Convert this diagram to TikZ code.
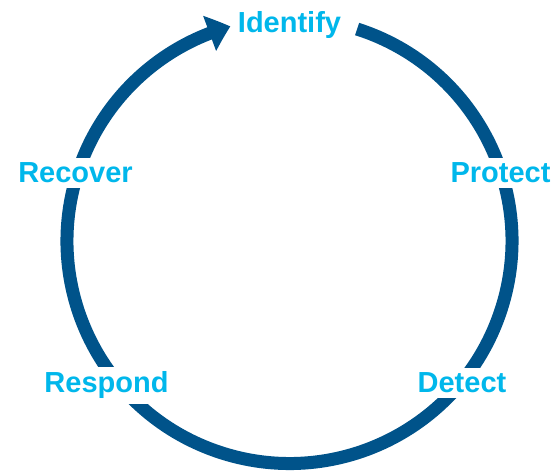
\documentclass[tikz,border=0pt]{standalone}
\usepackage{fontspec}
\setmainfont{Liberation Sans}
\usetikzlibrary{arrows.meta,bending}
\definecolor{ringblue}{RGB}{0,83,138}
\definecolor{labelcyan}{RGB}{0,183,235}
\tikzset{
  ring/.style={draw=ringblue, line width=13pt},
  phase/.style={text=labelcyan, font=\bfseries\fontsize{29}{31}\selectfont, fill=white, inner sep=5pt, anchor=base}
}
\begin{document}
\begin{tikzpicture}[x=1pt,y=1pt]
\useasboundingbox (0,0) rectangle (558,472);
\coordinate (c) at (289.5,231);
\draw[ring, -{Triangle[length=22pt,width=36pt,bend]}] ([shift={(72.3:222.5)}]c) arc[start angle=72.3, end angle=-254.6, radius=222.5];
\node[phase] (identify) at (289.5,439) {Identify};
\node[phase] (protect) at (500.5,289) {Protect};
\node[phase] (detect) at (462,79) {Detect};
\node[phase] (respond) at (106.5,79) {Respond};
\node[phase] (recover) at (75.5,289) {Recover};
\end{tikzpicture}
\end{document}
